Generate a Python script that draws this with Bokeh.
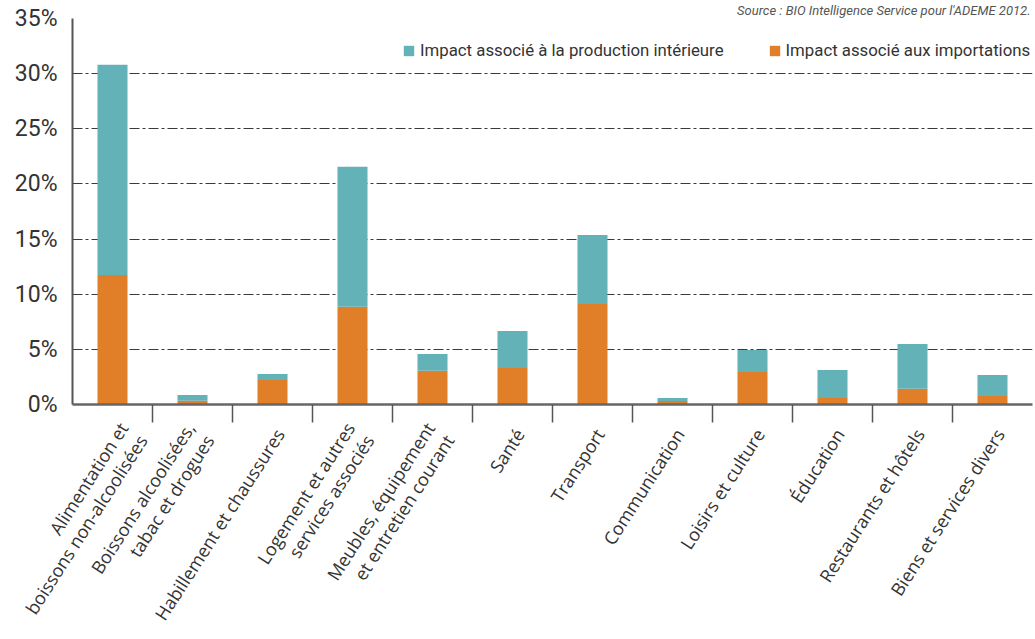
from bokeh.plotting import figure
from bokeh.models import (Range1d, LinearAxis, FixedTicker, Legend, LegendItem,
                          CustomJSTickFormatter)
from bokeh.embed import file_html
from bokeh.resources import INLINE

categories = [
    "Alimentation et\nboissons non-alcoolisées",
    "Boissons alcoolisées,\ntabac et drogues",
    "Habillement et chaussures",
    "Logement et autres\nservices associés",
    "Meubles, équipement\net entretien courant",
    "Santé",
    "Transport",
    "Communication",
    "Loisirs et culture",
    "Éducation",
    "Restaurants et hôtels",
    "Biens et services divers",
]
imports = [11.75, 0.35, 2.22, 8.87, 3.07, 3.31, 9.12, 0.32, 2.95, 0.59, 1.43, 0.77]
domestic = [19.05, 0.51, 0.54, 12.68, 1.51, 3.36, 6.26, 0.27, 2.00, 2.54, 4.06, 1.91]
y_ticks = [0, 5, 10, 15, 20, 25, 30, 35]
series_names = ["Impact associé aux importations", "Impact associé à la production intérieure"]
source_text = "Source : BIO Intelligence Service pour l'ADEME 2012."

ORANGE = "#E07F28"
TEAL = "#63B2B8"
TXT = "#333333"
FONT = "Roboto"

n = len(categories)
centers = [i + 0.5 for i in range(n)]
label_shift = 0.09  # small visual offset of the rotated labels
label_pos = [c + label_shift for c in centers]

p = figure(width=1035, height=639, x_range=Range1d(0, n), y_range=Range1d(0, 35),
           output_backend="svg", toolbar_location=None, x_axis_location=None,
           min_border_left=72, min_border_right=3, min_border_top=17, min_border_bottom=235)
p.outline_line_color = None
p.background_fill_color = "white"
p.border_fill_color = "white"

p.title.text = source_text
p.title.align = "right"
p.title.text_font = FONT
p.title.text_font_style = "italic"
p.title.text_font_size = "13px"
p.title.text_color = "#555555"
p.title.standoff = 1
p.title.offset = 2

data = {"x": centers, "imp": imports, "dom": domestic}
r = p.vbar_stack(["imp", "dom"], x="x", width=0.375, source=data,
                 color=[ORANGE, TEAL], line_color=None)

# y axis
yax = p.yaxis[0]
yax.ticker = FixedTicker(ticks=y_ticks)
yax.formatter = CustomJSTickFormatter(code="return tick + '%';")
yax.major_tick_line_color = None
yax.minor_tick_line_color = None
yax.axis_line_color = "#555555"
yax.axis_line_width = 2
yax.major_label_text_font = FONT
yax.major_label_text_font_size = "23px"
yax.major_label_text_color = TXT
yax.major_label_standoff = 9

p.ygrid.ticker = FixedTicker(ticks=y_ticks[1:])
p.ygrid.grid_line_color = "#3a3a3a"
p.ygrid.grid_line_width = 1
p.ygrid.grid_line_dash = "10 3 3 3"
p.xgrid.grid_line_color = None

# tick-only axis at category boundaries
tax = LinearAxis(ticker=FixedTicker(ticks=list(range(1, n))),
                 formatter=CustomJSTickFormatter(code="return '';"))
tax.major_label_text_font_size = "1px"
tax.major_label_standoff = 0
tax.major_tick_out = 18
tax.major_tick_in = 0
tax.major_tick_line_color = "#555555"
tax.major_tick_line_width = 1.5
tax.minor_tick_line_color = None
tax.axis_line_color = "#666666"
tax.axis_line_width = 2.5
p.add_layout(tax, "below")

# label axis
lax = LinearAxis(ticker=FixedTicker(ticks=label_pos),
                 major_label_overrides={c: lab for c, lab in zip(label_pos, categories)})
lax.axis_line_color = None
lax.major_tick_line_color = None
lax.minor_tick_line_color = None
lax.major_label_orientation = 1.0
lax.major_label_text_font = "Open Sans"
lax.major_label_text_font_size = "18px"
lax.major_label_text_color = TXT
lax.major_label_text_line_height = 0.95
lax.major_label_standoff = 2
p.add_layout(lax, "below")

legend = Legend(items=[LegendItem(label=series_names[1], renderers=[r[1]]),
                       LegendItem(label=series_names[0], renderers=[r[0]])],
                orientation="horizontal", location=(330, 344),
                glyph_width=13, glyph_height=13, label_standoff=5, spacing=44,
                padding=0, margin=0, border_line_color=None, background_fill_alpha=0,
                label_text_font=FONT, label_text_font_size="16.8px", label_text_color=TXT)
p.add_layout(legend, "center")

open("out.html", "w").write(file_html(p, INLINE))
